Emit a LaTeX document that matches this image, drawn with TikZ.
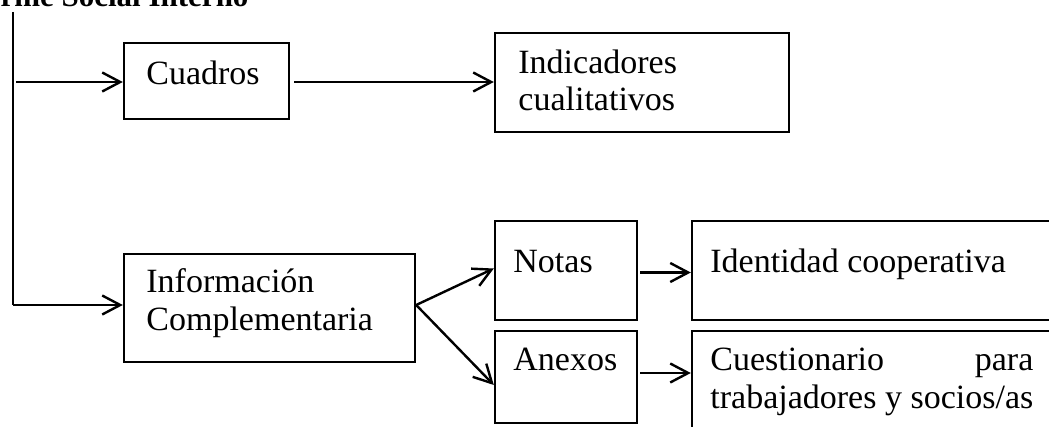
\documentclass[tikz,border=0pt]{standalone}
\usepackage{fontspec}
\setmainfont{Liberation Serif}
\usetikzlibrary{arrows.meta}
\tikzset{
  box/.style={draw=black, line width=1.2pt, rectangle, inner sep=0pt},
  lbl/.style={anchor=base west, inner sep=0pt, font=\fontsize{17}{18.75}\selectfont},
  conn/.style={line width=1.2pt, -{Straight Barb[length=9pt,width=9.5pt,line width=1.2pt]}},
}
\begin{document}
\begin{tikzpicture}[x=0.5pt,y=-0.5pt]
\useasboundingbox (0,0) rectangle (1049,427);
\clip (0,0) rectangle (1049,427);
% title (cut off at the top and left)
\node[lbl, font=\fontsize{15.5}{18}\selectfont\bfseries] (title) at (-55,7) {Informe Social Interno};
% boxes
\node[box, minimum width=82.5pt, minimum height=38pt] (cuadros) at (206.5,81) {};
\node[box, minimum width=147pt, minimum height=49.5pt] (indic) at (642,82.5) {};
\node[box, minimum width=145.5pt, minimum height=54pt] (info) at (269.5,308) {};
\node[box, minimum width=71pt, minimum height=49.5pt] (notas) at (566,270.5) {};
\node[box, minimum width=71pt, minimum height=46pt] (anexos) at (566,377) {};
\node[box, minimum width=189pt, minimum height=49.5pt] (ident) at (881,270.5) {};
\node[box, minimum width=189pt, minimum height=59.5pt] (cuest) at (881,390.5) {};
% texts
\node[lbl] (cuadrosT) at (146,85) {Cuadros};
\node[lbl, align=left] (indicT) at (518,111) {Indicadores\\cualitativos};
\node[lbl, align=left] (infoT) at (146,330) {Información\\Complementaria};
\node[lbl] (notasT) at (513,272) {Notas};
\node[lbl] (anexosT) at (513,370) {Anexos};
\node[lbl] (identT) at (710,272) {Identidad cooperativa};
\node[lbl, align=left] (cuestT) at (710,408) {\makebox[161.5pt][l]{Cuestionario\hfill para}\\trabajadores y socios/as};
% trunk
\coordinate (top) at (13,12);
\coordinate (corner) at (13,305);
\coordinate (branch) at (16,82);
\draw[line width=1.2pt] (top) -- (corner);
\draw[conn] (corner) -- (corner -| info.west);
\draw[conn] (branch) -- (branch -| cuadros.west);
% connectors
\draw[conn, shorten <=2pt] (cuadros.east |- branch) -- (indic.west |- branch);
\draw[conn] (info.east |- corner) -- ([yshift=1pt]notas.west);
\draw[conn] (info.east |- corner) -- ([yshift=-4pt]anexos.west);
\draw[conn, shorten <=1pt] ([yshift=-1pt]notas.east) -- ([yshift=-1pt]notas.east -| ident.west);
\draw[conn, shorten <=1pt] ([yshift=2pt]anexos.east) -- ([yshift=2pt]anexos.east -| cuest.west);
\end{tikzpicture}
\end{document}
